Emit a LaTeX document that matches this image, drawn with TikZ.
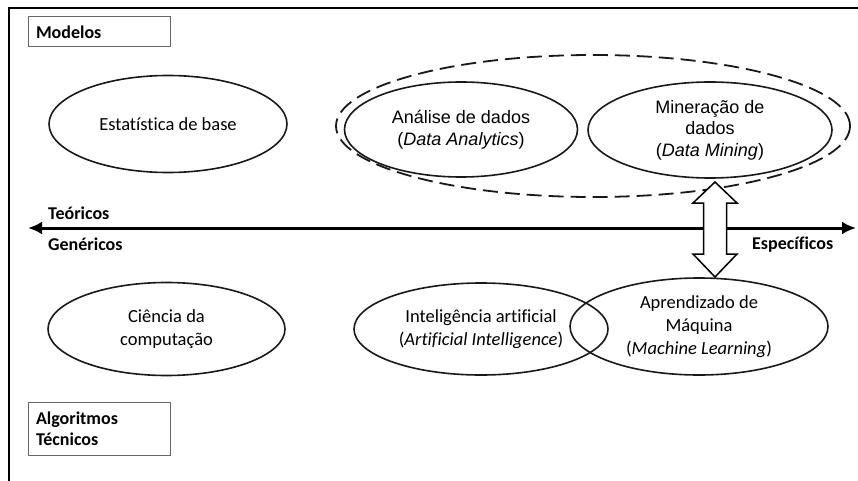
\documentclass[tikz,border=0pt]{standalone}
\usepackage{fontspec}
\usetikzlibrary{arrows.meta,shapes.geometric,calc}
\newfontfamily\arialf{Liberation Sans}
\newfontfamily\calibrif[Ligatures=NoCommon]{Carlito}
\begin{document}
\begin{tikzpicture}[x=1pt,y=-1pt,
  field/.style={ellipse,draw=black!90,line width=1.6pt,inner sep=0pt,align=center},
  topfield/.style={field,font=\arialf\fontsize{18}{21.5}\selectfont},
  lowfield/.style={field,font=\calibrif\fontsize{18.5}{23}\selectfont},
  tag/.style={font=\calibrif\bfseries\fontsize{18}{21}\selectfont,inner sep=0pt},
  tagbox/.style={draw=black!60,line width=1pt,inner xsep=8pt,inner ysep=0pt,align=left,
    font=\calibrif\bfseries\fontsize{18}{21}\selectfont,text width=126pt},
  groupring/.style={draw=black!90,line width=1.8pt,dash pattern=on 15pt off 7pt}
]
\useasboundingbox (0,0) rectangle (858,481);

% frame
\draw[line width=1.2pt] (9,481) -- (9,8) -- (858,8);

% category boxes
\node[tagbox,minimum width=142pt,minimum height=30pt] (modelos) at (99,32) {Modelos};
\node[tagbox,minimum width=142pt,minimum height=53pt] (algo) at (99,428.5) {Algoritmos\\Técnicos};

% upper row
\node[groupring,ellipse,minimum width=514pt,minimum height=142pt] (grupo) at (593,126) {};
\node[lowfield,minimum width=238pt,minimum height=97pt] (estat) at (168,124) {Estatística de base};
\node[topfield,minimum width=233pt,minimum height=95pt] (analise) at (461,129.5) {Análise de dados\\(\textit{Data Analytics})};
\node[topfield,minimum width=244pt,minimum height=96pt] (mineracao) at (710,130) {Mineração de\\dados\\(\textit{Data Mining})};

% axis
\coordinate (axl) at (28,228);
\coordinate (axr) at (856,228);
\draw[line width=3pt,{Latex[length=14pt,width=13pt]}-{Latex[length=14pt,width=13pt]}] (axl) -- (axr);
\node[tag,anchor=west] (teo) at (48,213) {Teóricos};
\node[tag,anchor=west] (gen) at (48,244) {Genéricos};
\node[tag,anchor=west] (esp) at (752,245) {Específicos};

% lower row
\node[lowfield,minimum width=237pt,minimum height=93pt] (ciencia) at (166.5,329) {Ciência da\\computação};
\node[lowfield,minimum width=254pt,minimum height=92pt] (ia) at (481,329) {Inteligência artificial\\(\textit{Artificial Intelligence})};
\node[lowfield,minimum width=258pt,minimum height=97pt] (ml) at (699,326.5) {Aprendizado de\\Máquina\\(\textit{Machine Learning})};

% two-headed block arrow between data mining and machine learning
\coordinate (ut) at (715,182);
\coordinate (lt) at (715,277);
\draw[line width=1.5pt,fill=white,line join=miter]
  (ut) -- ($(ut)+(22,21)$) -- ($(ut)+(11.5,21)$) -- ($(lt)+(11.5,-23)$) -- ($(lt)+(22,-23)$)
  -- (lt) -- ($(lt)+(-22,-23)$) -- ($(lt)+(-11.5,-23)$) -- ($(ut)+(-11.5,21)$) -- ($(ut)+(-22,21)$) -- cycle;
\end{tikzpicture}
\end{document}
